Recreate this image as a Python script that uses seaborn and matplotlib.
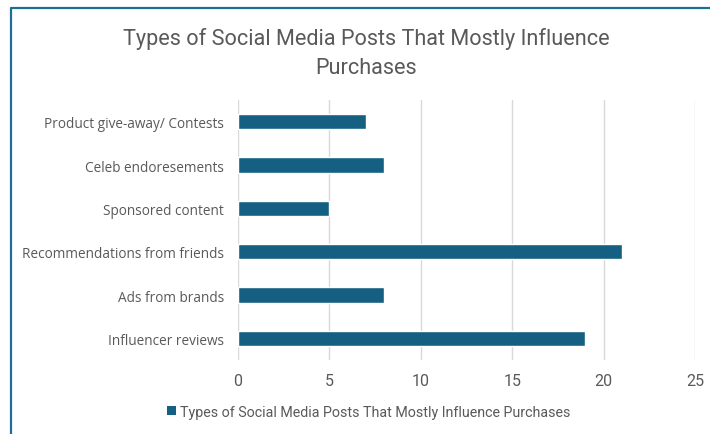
import matplotlib
matplotlib.use("Agg")
import matplotlib.pyplot as plt
from matplotlib.lines import Line2D
from matplotlib.patches import Patch
import seaborn as sns
import pandas as pd

categories = [
    "Product give-away/ Contests",
    "Celeb endoresements",
    "Sponsored content",
    "Recommendations from friends",
    "Ads from brands",
    "Influencer reviews",
]
counts = [7, 8, 5, 21, 8, 19]
x_ticks = [0, 5, 10, 15, 20, 25]
series_name = "Types of Social Media Posts That Mostly Influence Purchases"
title_text = "Types of Social Media Posts That Mostly Influence\nPurchases"

bar_color = "#156082"
text_color = "#595959"
grid_color = "#d9d9d9"
narrow = ["Roboto", "DejaVu Sans"]

sns.set_theme(style="white")
plt.rcParams["font.family"] = ["Open Sans", "DejaVu Sans"]

df = pd.DataFrame({"category": categories, "count": counts})

W, H = 710, 435
fig = plt.figure(figsize=(W / 100, H / 100), dpi=100)
ax = fig.add_axes([238 / W, 1 - 361 / H, (695 - 238) / W, (361 - 101) / H])

sns.barplot(data=df, x="count", y="category", color=bar_color, width=0.35,
            saturation=1, ax=ax, zorder=3)

ax.set_xlim(0, 25)
ax.set_xticks(x_ticks)
ax.set_xticklabels([str(t) for t in x_ticks], fontsize=11.5, color=text_color,
                   family=narrow)
ax.tick_params(axis="x", length=0, pad=9)
ax.tick_params(axis="y", length=0, pad=10, labelsize=9.8, labelcolor=text_color)
ax.set_xlabel("")
ax.set_ylabel("")
ax.grid(axis="x", color=grid_color, linewidth=1, zorder=0)
for s in ax.spines.values():
    s.set_visible(False)

fig.text(366 / W, 1 - 53 / H, title_text, ha="center", va="center",
         fontsize=15.6, color=text_color, linespacing=1.5, family=narrow)

handle = Patch(facecolor=bar_color, edgecolor="none")
fig.legend([handle], [series_name], loc="center", bbox_to_anchor=(369 / W, 1 - 413 / H),
           frameon=False, prop={"family": narrow, "size": 10.3}, labelcolor=text_color,
           handlelength=0.6, handleheight=0.6, handletextpad=0.3)

# outer chart frame along the left and top edges
frame_color = "#1f6e94"
fig.add_artist(Line2D([11 / W, 11 / W, 1.0], [0.0, 1 - 9 / H, 1 - 9 / H],
                      transform=fig.transFigure, color=frame_color, linewidth=1.6))

fig.savefig("out.png", dpi=100, facecolor="white")
